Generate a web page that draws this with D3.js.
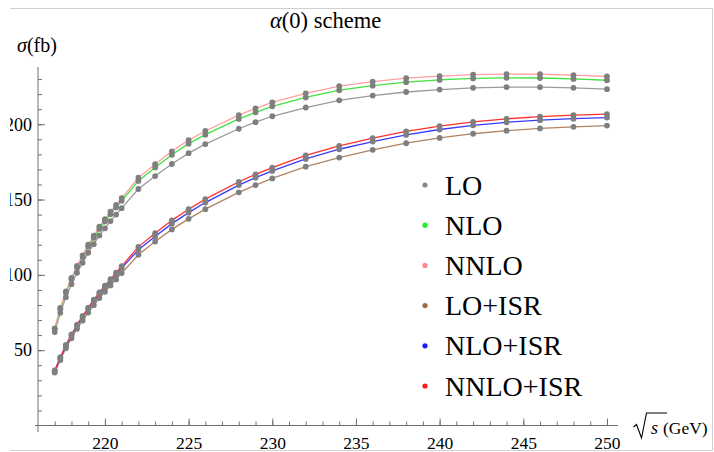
<!DOCTYPE html>
<html>
<head>
<meta charset="utf-8">
<script src="https://cdn.jsdelivr.net/npm/d3@7"></script>
<style>
  html, body { margin: 0; padding: 0; background: #fff; }
  svg { display: block; font-family: "Liberation Serif", "Times New Roman", serif; }
</style>
</head>
<body>
<svg id="chart" width="714" height="452"></svg>
<script>
// Centre-of-mass energies (GeV)
const energies = [217, 217.333, 217.667, 218, 218.333, 218.667, 219, 219.333, 219.667, 220,
  220.333, 220.667, 221, 222, 223, 224, 225, 226, 228, 229, 230,
  232, 234, 236, 238, 240, 242, 244, 246, 248, 250];

// Cross sections (fb)
const lo = [62, 74.8, 85.2, 93.8, 101.4, 108, 114.7, 120.4, 126.2, 130.9,
  135.7, 140, 144.3, 157, 165.6, 173.6, 180.8, 186.8, 197, 201.4, 205.3,
  211.1, 215.9, 219, 221.4, 223, 224.2, 224.7, 224.7, 224.2, 223.3];
const nlo = [64.0, 77.2, 88.1, 97, 104.9, 111.8, 118.7, 124.6, 130.5, 135.4,
  140.3, 144.8, 149.2, 162.4, 171.3, 179.7, 187.1, 193.1, 203.5, 207.9, 211.9,
  217.8, 222.6, 225.6, 227.9, 229.4, 230.4, 230.8, 230.7, 230.1, 229.2];
const nnlo = [64.5, 78, 89, 98, 106, 113, 120, 126, 132, 137,
  142, 146.5, 151, 164.5, 173.5, 182, 189.5, 195.5, 206, 210.5, 214.5,
  220.5, 225.3, 228.3, 230.6, 232, 233, 233.3, 233.2, 232.6, 231.7];
const loIsr = [35.2, 43.5, 51.3, 57.9, 64.2, 69.7, 75, 79.9, 84.6, 88.8,
  93, 97, 101.2, 113.3, 122.1, 130.2, 137.2, 143.6, 154.8, 159.6, 164,
  171.8, 177.9, 183, 187.4, 190.9, 193.7, 195.7, 197.2, 198.3, 199.1];
const nloIsr = [36.1, 44.8, 52.8, 59.7, 66.2, 71.9, 77.4, 82.5, 87.3, 91.7,
  96, 100.2, 104.5, 116.7, 125.5, 134, 141.3, 148, 159.6, 164.5, 169,
  177, 183.4, 188.5, 192.9, 196.5, 199.3, 201.3, 202.7, 203.7, 204.4];
const nnloIsr = [36.5, 45.3, 53.5, 60.4, 67, 72.8, 78.3, 83.5, 88.4, 92.8,
  97.2, 101.4, 105.8, 118.6, 127.7, 136.2, 143.6, 150.3, 161.8, 166.7, 171.2,
  179.3, 185.6, 190.8, 195.2, 198.8, 201.6, 203.6, 205, 206, 206.7];

const seriesNames = ["LO", "NLO", "NNLO", "LO+ISR", "NLO+ISR", "NNLO+ISR"];
const seriesValues = [lo, nlo, nnlo, loIsr, nloIsr, nnloIsr];
const lineColors = ["#9a9a9a", "#3fe23f", "#ffa0a0", "#b08462", "#3a3aff", "#ff3030"];
const legendColors = ["#8a8a8a", "#22ee22", "#ff8a8a", "#9a6a44", "#1a1aff", "#ff1a1a"];

const xMajorTicks = [220, 225, 230, 235, 240, 245, 250];
const xMinorTicks = d3.range(217, 251, 1);
const yMajorTicks = [50, 100, 150, 200];
const yMinorTicks = d3.range(10, 240, 10);

const svg = d3.select("#chart");

const x = d3.scaleLinear().domain([216, 250.6]).range([38, 617]);
const y = d3.scaleLinear().domain([0, 238]).range([425.5, 67]);

const axisColor = "#707070";

// frame of the figure
svg.append("path")
  .attr("d", "M10,8.5 H712.5 V450.5 H10")
  .attr("fill", "none").attr("stroke", "#d0d0d0").attr("stroke-width", 1);

svg.append("defs").append("clipPath").attr("id", "figclip")
  .append("rect").attr("x", 10).attr("y", 0).attr("width", 704).attr("height", 452);

const root = svg.append("g").attr("clip-path", "url(#figclip)");

// axes lines
root.append("line").attr("x1", 35).attr("x2", 618).attr("y1", y(0)).attr("y2", y(0))
  .attr("stroke", axisColor).attr("stroke-width", 1);
root.append("line").attr("x1", x(216)).attr("x2", x(216)).attr("y1", 432).attr("y2", y(238))
  .attr("stroke", axisColor).attr("stroke-width", 1);

function styleAxis(g) {
  g.select(".domain").remove();
  g.selectAll(".tick line").attr("stroke", axisColor);
  g.selectAll(".tick text").attr("fill", "#000");
}

// x axis
root.append("g").attr("transform", `translate(0,${y(0)})`)
  .call(d3.axisBottom(x).tickValues(xMinorTicks).tickSizeInner(-4).tickSizeOuter(0).tickFormat(""))
  .call(styleAxis);
root.append("g").attr("transform", `translate(0,${y(0)})`)
  .call(d3.axisBottom(x).tickValues(xMajorTicks).tickSizeInner(-7).tickSizeOuter(0).tickPadding(11).tickFormat(d3.format("d")))
  .call(styleAxis)
  .call(g => g.selectAll(".tick text").attr("font-size", 17.5).attr("font-family", "Liberation Serif, serif"));

// y axis
root.append("g").attr("transform", `translate(${x(216)},0)`)
  .call(d3.axisLeft(y).tickValues(yMinorTicks).tickSizeInner(-4).tickSizeOuter(0).tickFormat(""))
  .call(styleAxis);
root.append("g").attr("transform", `translate(${x(216)},0)`)
  .call(d3.axisLeft(y).tickValues(yMajorTicks).tickSizeInner(-7).tickSizeOuter(0).tickPadding(6).tickFormat(d3.format("d")))
  .call(styleAxis)
  .call(g => g.selectAll(".tick text").attr("font-size", 18).attr("font-family", "Liberation Serif, serif"));

// series lines
const line = d3.line().x((d, i) => x(energies[i])).y(d => y(d));
const plot = root.append("g");
seriesValues.forEach((vals, k) => {
  plot.append("path").datum(vals)
    .attr("d", line)
    .attr("fill", "none")
    .attr("stroke", lineColors[k])
    .attr("stroke-width", 1.3);
});

// mesh points
seriesValues.forEach(vals => {
  plot.append("g").selectAll("circle").data(vals).join("circle")
    .attr("cx", (d, i) => x(energies[i]))
    .attr("cy", d => y(d))
    .attr("r", 2.9)
    .attr("fill", "#7f7f7f");
});

// title
root.append("text").attr("x", 270).attr("y", 28).attr("font-size", 22.5).attr("fill", "#000")
  .call(t => {
    t.append("tspan").attr("font-style", "italic").text("α");
    t.append("tspan").text("(0) scheme");
  });

// y axis label
root.append("text").attr("x", 17).attr("y", 52).attr("font-size", 20).attr("fill", "#000")
  .call(t => {
    t.append("tspan").attr("font-style", "italic").text("σ");
    t.append("tspan").text("(fb)");
  });

// x axis label: √s (GeV)
root.append("path")
  .attr("d", "M633.5,427 L636.5,424.5 L641.5,438 L646.5,413 H667")
  .attr("fill", "none").attr("stroke", "#000").attr("stroke-width", 1.1);
root.append("text").attr("x", 651).attr("y", 434).attr("font-size", 18)
  .attr("font-style", "italic").attr("fill", "#000").text("s");
root.append("text").attr("x", 663).attr("y", 434).attr("font-size", 17.5)
  .attr("fill", "#000").text("(GeV)");

// legend
const legend = root.append("g");
seriesNames.forEach((name, i) => {
  const cy = 185 + i * 40.2;
  legend.append("circle").attr("cx", 425).attr("cy", cy).attr("r", 2.6).attr("fill", legendColors[i]);
  legend.append("text").attr("x", 445).attr("y", cy + 9.5).attr("font-size", 28)
    .attr("fill", "#000").text(name);
});
</script>
</body>
</html>
